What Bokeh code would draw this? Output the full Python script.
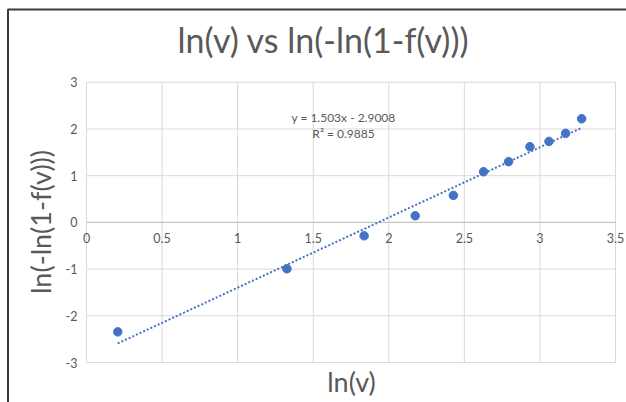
import math
from bokeh.plotting import figure
from bokeh.models import Range1d
from bokeh.core.properties import value
from bokeh.embed import file_html
from bokeh.resources import INLINE

# ---- data ----
ln_v = [0.207, 1.326, 1.837, 2.175, 2.427, 2.627, 2.793, 2.934, 3.060, 3.170, 3.276]
ln_ln = [-2.343, -0.994, -0.287, 0.141, 0.578, 1.084, 1.300, 1.620, 1.734, 1.906, 2.218]
slope = 1.503
intercept = -2.9008
r2 = 0.9885
x_ticks = [0, 0.5, 1, 1.5, 2, 2.5, 3, 3.5]
x_tick_labels = ["0", "0.5", "1", "1.5", "2", "2.5", "3", "3.5"]
y_ticks = [-3, -2, -1, 0, 1, 2, 3]
y_tick_labels = ["-3", "-2", "-1", "0", "1", "2", "3"]
title_text = "ln(v) vs ln(-ln(1-f(v)))"
x_title = "ln(v)"
y_title = "ln(-ln(1-f(v)))"

GRAY = "#595959"
BLUE = "#4472C4"
GRID = "#D9D9D9"
FONT = value("Lato")

# The whole canvas is the frame; the data ranges are chosen so that the
# plot area (0..3.5, -3..3) sits where the reference draws it.
W, H = 626, 402
PX_X, PX_Y = 151.14, 46.72          # pixels per data unit
X0_PX, Y0_PX = 86.0, 221.9          # pixel position of data origin
x_start, x_end = -X0_PX / PX_X, (W - X0_PX) / PX_X
y_start, y_end = -(H - Y0_PX) / PX_Y, Y0_PX / PX_Y

def sx(px):
    return (px - X0_PX) / PX_X

def sy(py):
    return (Y0_PX - py) / PX_Y

p = figure(width=W, height=H, output_backend="svg", toolbar_location=None,
           x_range=Range1d(x_start, x_end), y_range=Range1d(y_start, y_end),
           min_border=0, x_axis_location=None, y_axis_location=None)
p.title.visible = False
p.outline_line_color = None
p.background_fill_color = "white"
p.border_fill_color = "white"
p.xgrid.visible = False
p.ygrid.visible = False

# chart-area border (left and top edges, as in the reference crop)
p.line([sx(7.5), sx(7.5), sx(W + 5)], [sy(H + 5), sy(9), sy(9)],
       line_color="#3A3A3A", line_width=2)

# gridlines of the plot area
n, m = len(x_ticks), len(y_ticks)
p.segment(x0=x_ticks, y0=[y_ticks[0]] * n, x1=x_ticks, y1=[y_ticks[-1]] * n,
          line_color=GRID, line_width=1)
p.segment(x0=[x_ticks[0]] * m, y0=y_ticks, x1=[x_ticks[-1]] * m, y1=y_ticks,
          line_color=GRID, line_width=1)
# horizontal axis line at y = 0
p.line([x_ticks[0], x_ticks[-1]], [0, 0], line_color="#BFBFBF", line_width=1)

# tick labels
p.text(x=x_ticks, y=[0] * n, text=x_tick_labels, text_align="center",
       text_baseline="top", y_offset=11, text_font=FONT, text_font_size="12.5px",
       text_color=GRAY)
p.text(x=[0] * m, y=y_ticks, text=y_tick_labels, text_align="right",
       text_baseline="middle", x_offset=-9, text_font=FONT, text_font_size="12.5px",
       text_color=GRAY)

# trendline
xs = [min(ln_v), max(ln_v)]
ys = [slope * x + intercept for x in xs]
p.line(xs, ys, line_color=BLUE, line_width=2, line_dash="2 2")

# points
p.scatter(ln_v, ln_ln, size=8.5, fill_color=BLUE, line_color=BLUE)

# equation
p.text(x=[sx(343), sx(343)], y=[sy(117), sy(133)],
       text=[f"y = {slope}x - {abs(intercept)}", f"R\u00b2 = {r2}"],
       text_align="center", text_baseline="middle",
       text_font=FONT, text_font_size="12px", text_color=GRAY)

# title and axis titles
p.text(x=[sx(323)], y=[sy(39)], text=[title_text], text_align="center",
       text_baseline="middle", text_font=FONT, text_font_size="34px",
       text_color=GRAY)
p.text(x=[sx(351)], y=[sy(381)], text=[x_title], text_align="center",
       text_baseline="middle", text_font=FONT, text_font_size="27px",
       text_color=GRAY)
p.text(x=[sx(40)], y=[sy(221.5)], text=[y_title], text_align="center", angle=math.pi / 2,
       text_baseline="middle", text_font=FONT, text_font_size="27px",
       text_color=GRAY)

open("out.html", "w").write(file_html(p, INLINE))
